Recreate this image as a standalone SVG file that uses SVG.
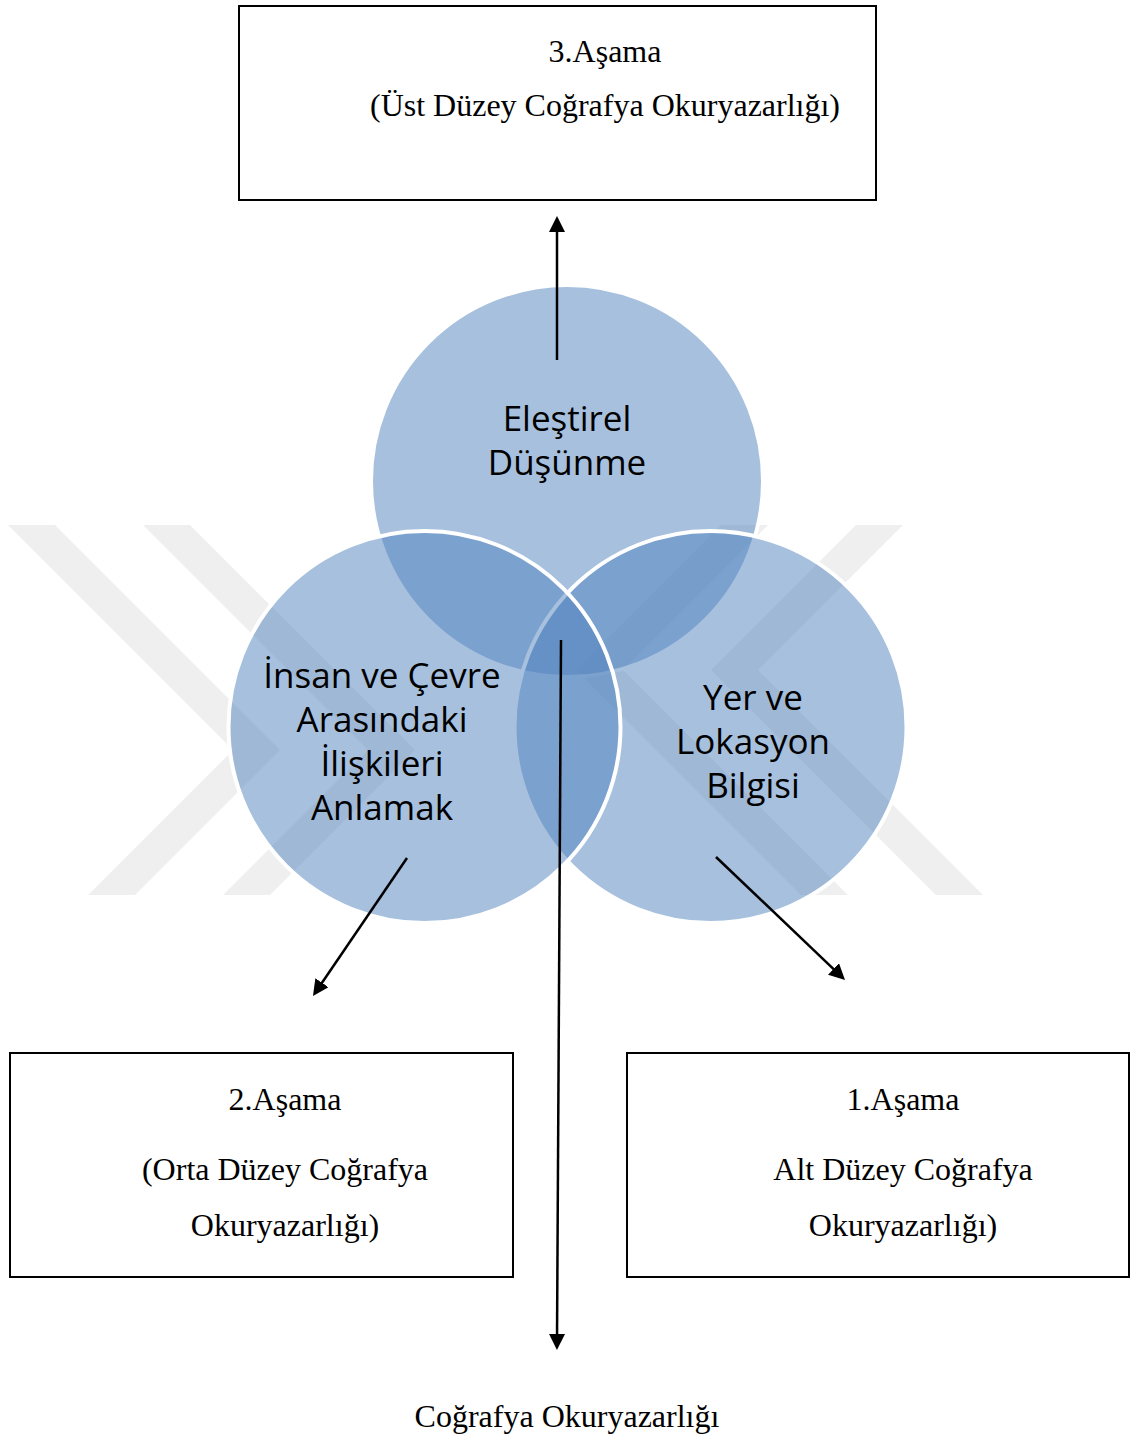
<svg xmlns="http://www.w3.org/2000/svg" width="1130" height="1439" viewBox="0 0 1130 1439">
<style>
.box{fill:#fff;stroke:#000;stroke-width:2}
.st{font-family:"Liberation Serif","Times New Roman",serif;font-size:32px;fill:#000;text-anchor:middle}
.ct{font-family:"Open Sans","Noto Sans",sans-serif;font-size:35px;fill:#000;text-anchor:middle}
.circ{fill:#4F81BD;fill-opacity:0.5;stroke:#fff;stroke-width:4}
.wm{fill:#EFEFEF}
.conn{stroke:#000;stroke-width:2.5;fill:none;marker-end:url(#ah)}
</style>
<defs>
<marker id="ah" viewBox="0 0 16 16" refX="6" refY="8" markerWidth="16" markerHeight="16" markerUnits="userSpaceOnUse" orient="auto">
<path d="M0,0 L16,8 L0,16 z" fill="#000"/>
</marker>
</defs>
<rect width="1130" height="1439" fill="#fff"/>
<g id="watermark">
<polygon class="wm" points="8,525 55,525 280,750 135,895 88,895 233,750"/>
<polygon class="wm" points="143,525 190,525 415,750 270,895 223,895 368,750"/>
<polygon class="wm" points="983,895 936,895 711,670 856,525 903,525 758,670"/>
<polygon class="wm" points="848,895 801,895 576,670 721,525 768,525 623,670"/>
</g>
<g id="circles">
<g id="node-elestirel"><circle class="circ" cx="567" cy="481" r="196"/></g>
<g id="node-yer"><circle class="circ" cx="710.5" cy="727" r="196"/></g>
<g id="node-insan"><circle class="circ" cx="424.5" cy="727" r="196"/></g>
</g>
<g id="connectors">
<line class="conn" x1="557" y1="360" x2="557" y2="226"/>
<line class="conn" x1="561" y1="640" x2="557" y2="1340"/>
<line class="conn" x1="407" y1="858" x2="318.6" y2="987.7"/>
<line class="conn" x1="716" y1="857" x2="837.8" y2="973.1"/>
</g>
<g id="circle-labels">
<text class="ct" x="567" y="431">Eleştirel</text>
<text class="ct" x="567" y="475">Düşünme</text>
<text class="ct" x="382" y="688">İnsan ve Çevre</text>
<text class="ct" x="382" y="732">Arasındaki</text>
<text class="ct" x="382" y="776">İlişkileri</text>
<text class="ct" x="382" y="820">Anlamak</text>
<text class="ct" x="753" y="710">Yer ve</text>
<text class="ct" x="753" y="754">Lokasyon</text>
<text class="ct" x="753" y="798">Bilgisi</text>
</g>
<g id="node-asama3">
<rect class="box" x="239" y="6" width="637" height="194"/>
<text class="st" x="605" y="62">3.Aşama</text>
<text class="st" x="605" y="116">(Üst Düzey Coğrafya Okuryazarlığı)</text>
</g>
<g id="node-asama2">
<rect class="box" x="10" y="1053" width="503" height="224"/>
<text class="st" x="285" y="1110">2.Aşama</text>
<text class="st" x="285" y="1180">(Orta Düzey Coğrafya</text>
<text class="st" x="285" y="1236">Okuryazarlığı)</text>
</g>
<g id="node-asama1">
<rect class="box" x="627" y="1053" width="502" height="224"/>
<text class="st" x="903" y="1110">1.Aşama</text>
<text class="st" x="903" y="1180">Alt Düzey Coğrafya</text>
<text class="st" x="903" y="1236">Okuryazarlığı)</text>
</g>
<g id="node-cografya">
<text class="st" x="567" y="1427">Coğrafya Okuryazarlığı</text>
</g>
</svg>
